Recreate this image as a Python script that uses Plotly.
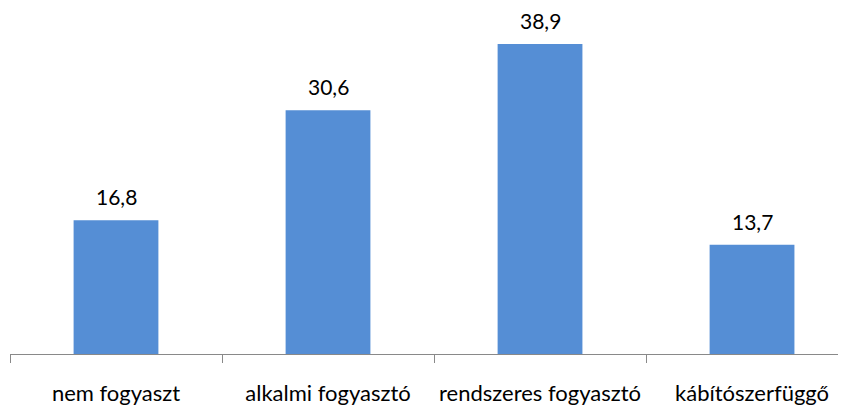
import plotly.graph_objects as go

categories = ["nem fogyaszt", "alkalmi fogyasztó", "rendszeres fogyasztó", "kábítószerfüggő"]
values = [16.8, 30.6, 38.9, 13.7]

FONT = "Lato"
fig = go.Figure(go.Bar(
    x=categories, y=values,
    marker=dict(color="#558ED5", line=dict(width=0)),
    width=0.4,
    cliponaxis=False,
))
for c, v in zip(categories, values):
    fig.add_annotation(
        x=c, y=v, text=f"{v:.1f}".replace(".", ","), showarrow=False,
        yanchor="bottom", yshift=9,
        font=dict(family=FONT, size=21, color="#000000"),
    )
fig.update_layout(
    width=846, height=406,
    margin=dict(l=2, r=0, t=0, b=59.5, autoexpand=False),
    paper_bgcolor="white", plot_bgcolor="white",
    separators=",.",
    showlegend=False,
    font=dict(family=FONT, size=22, color="#000000"),
)
fig.update_xaxes(
    range=[-0.5, 3.481], tickson="boundaries", ticks="outside", ticklen=8,
    tickcolor="#898989", showline=True, linecolor="#898989", linewidth=1,
    ticklabelstandoff=20, showgrid=False, automargin=False,
    tickfont=dict(family=FONT, size=22, color="#000000"),
)
fig.update_yaxes(range=[0, 43.42], visible=False, showgrid=False, zeroline=False, automargin=False)
fig.write_html("out.html")
